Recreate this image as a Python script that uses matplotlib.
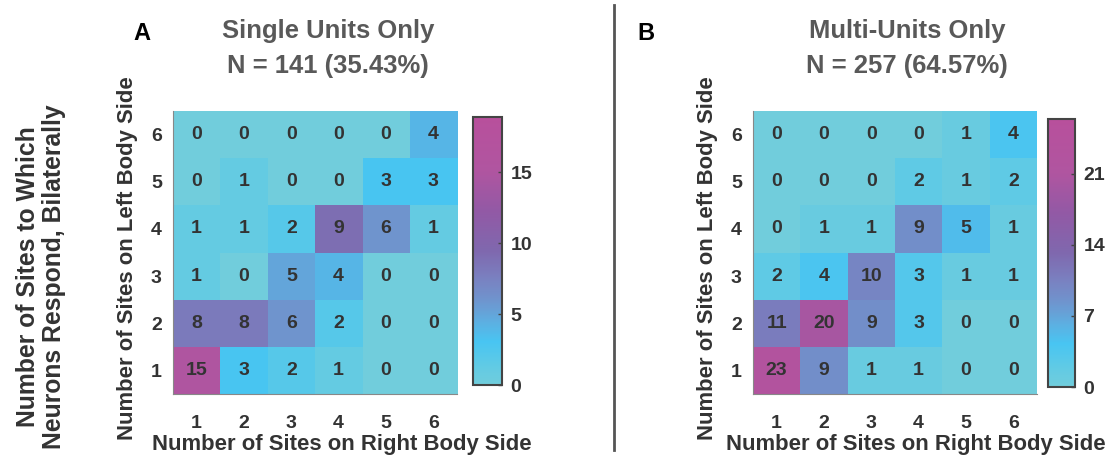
import numpy as np
import matplotlib
matplotlib.use("Agg")
import matplotlib.pyplot as plt
from matplotlib import font_manager
from matplotlib.colors import LinearSegmentedColormap
from matplotlib.lines import Line2D

# pick a narrow Arial-like face if we have one
names = {f.name for f in font_manager.fontManager.ttflist}
narrow = 'Liberation Sans Narrow' in names
fam = 'Liberation Sans Narrow' if narrow else 'Liberation Sans'
k = 1.0 if narrow else 0.84
plt.rcParams['font.family'] = [fam, 'DejaVu Sans']

sites = [1, 2, 3, 4, 5, 6]

# rows = sites on left side (1..6), cols = sites on right side (1..6)
single_counts = np.array([
    [15, 3, 2, 1, 0, 0],
    [8, 8, 6, 2, 0, 0],
    [1, 0, 5, 4, 0, 0],
    [1, 1, 2, 9, 6, 1],
    [0, 1, 0, 0, 3, 3],
    [0, 0, 0, 0, 0, 4],
])
multi_counts = np.array([
    [23, 9, 1, 1, 0, 0],
    [11, 20, 9, 3, 0, 0],
    [2, 4, 10, 3, 1, 1],
    [0, 1, 1, 9, 5, 1],
    [0, 0, 0, 2, 1, 2],
    [0, 0, 0, 0, 1, 4],
])

single_title = ['Single Units Only', 'N = 141 (35.43%)']
multi_title = ['Multi-Units Only', 'N = 257 (64.57%)']
single_ticks = [0, 5, 10, 15]
multi_ticks = [0, 7, 14, 21]
single_vmax = 18.9
multi_vmax = 26.4

cmap = LinearSegmentedColormap.from_list('cyanmag', [
    (0.00, '#71cddc'),
    (0.08, '#5ecae6'),
    (0.16, '#48c5f2'),
    (0.23, '#5cb0e2'),
    (0.31, '#6e96cf'),
    (0.40, '#7a80c0'),
    (0.50, '#7f68ae'),
    (0.65, '#9259a5'),
    (0.80, '#b055a0'),
    (1.00, '#b8509c'),
])

W, H = 1107, 459
fig = plt.figure(figsize=(W / 100, H / 100), dpi=100)


def px(x0, y0, x1, y1):
    return [x0 / W, 1 - y1 / H, (x1 - x0) / W, (y1 - y0) / H]


dark = '#333333'
grey = '#595959'
num_size = 14


def panel(ax_box, cb_box, counts, vmax, ticks, title, tx, letter, lx, xlab_x):
    ax = fig.add_axes(px(*ax_box))
    im = ax.imshow(counts, cmap=cmap, vmin=0, vmax=vmax, origin='lower',
                   extent=[0.5, 6.5, 0.5, 6.5], aspect='auto')
    for i in range(6):
        for j in range(6):
            ax.text(sites[j], sites[i], str(counts[i, j]), ha='center', va='center',
                    fontsize=num_size, fontweight='bold', color=dark)
    ax.set_xticks(sites)
    ax.set_yticks(sites)
    ax.tick_params(length=0, labelsize=num_size, labelcolor=dark)
    ax.tick_params(axis='x', pad=15)
    ax.tick_params(axis='y', pad=8)
    for t in ax.get_xticklabels() + ax.get_yticklabels():
        t.set_fontweight('bold')
    for s in ['top', 'right']:
        ax.spines[s].set_visible(False)
    for s in ['left', 'bottom']:
        ax.spines[s].set_color('#888888')
    ax.set_xlabel('Number of Sites on Right Body Side', fontsize=19 * k,
                  fontweight='bold', color=dark)
    ax.set_ylabel('Number of Sites on Left Body Side', fontsize=19 * k,
                  fontweight='bold', color=dark)
    ax.xaxis.set_label_coords(xlab_x, -0.14)
    ax.yaxis.set_label_coords(-0.125, 0.48)

    cax = fig.add_axes(px(*cb_box))
    cb = fig.colorbar(im, cax=cax, ticks=ticks)
    cb.outline.set_edgecolor('#444444')
    cb.outline.set_linewidth(1.5)
    cax.tick_params(direction='in', length=3, width=1, color='#444444',
                    labelsize=num_size, labelcolor=dark, pad=6)
    for t in cax.get_yticklabels():
        t.set_fontweight('bold')

    fig.text(tx / W, 1 - 31 / H, title[0], ha='center', va='center',
             fontsize=22 * k, fontweight='bold', color=grey)
    fig.text(tx / W, 1 - 66 / H, title[1], ha='center', va='center',
             fontsize=22 * k, fontweight='bold', color=grey)
    fig.text(lx / W, 1 - 33 / H, letter, ha='center', va='center',
             fontsize=17, fontweight='bold', color='black')


panel((173, 111, 457, 394), (473, 117, 502, 385), single_counts, single_vmax,
      single_ticks, single_title, 328, 'A', 142, 0.595)
panel((753, 111, 1037, 394), (1048, 119, 1075, 387), multi_counts, multi_vmax,
      multi_ticks, multi_title, 907, 'B', 646, 0.574)

fig.text(41 / W, 1 - 277 / H, 'Number of Sites to Which\nNeurons Respond, Bilaterally',
         rotation=90, ha='center', va='center', fontsize=17.8, fontweight='bold',
         color=dark, linespacing=1.1, multialignment='center')

fig.add_artist(Line2D([614 / W, 614 / W], [1 - 5 / H, 1 - 450 / H],
                      transform=fig.transFigure, color='#555555', lw=2))

fig.savefig('out.png', dpi=100)
